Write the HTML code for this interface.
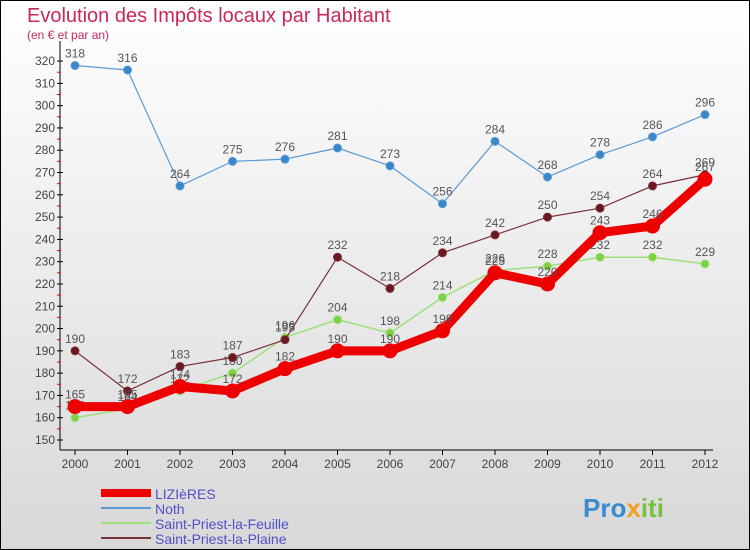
<!DOCTYPE html>
<html><head><meta charset="utf-8"><style>
html,body{margin:0;padding:0}
body{width:750px;height:550px;overflow:hidden;font-family:"Liberation Sans","DejaVu Sans",sans-serif}
#wrap{position:relative;width:748px;height:548px;border:1px solid #000;background:linear-gradient(#fff,#d8d8d8)}
.t{position:absolute;color:#c8285a}
</style></head><body>
<div id="wrap">
<div class="t" style="left:26px;top:4px;font-size:20px">Evolution des Impôts locaux par Habitant</div>
<div class="t" style="left:26px;top:27px;font-size:12px">(en € et par an)</div>
<svg id="svg" width="748" height="548" style="position:absolute;left:0;top:0"></svg>
</div>
<script>
const years=[2000,2001,2002,2003,2004,2005,2006,2007,2008,2009,2010,2011,2012];
const lizieres=[165,165,174,172,182,190,190,199,225,220,243,246,267];
const noth=[318,316,264,275,276,281,273,256,284,268,278,286,296];
const splf=[160,164,172,180,196,204,198,214,226,228,232,232,229];
const splp=[190,172,183,187,195,232,218,234,242,250,254,264,269];
const yTicks=[150,160,170,180,190,200,210,220,230,240,250,260,270,280,290,300,310,320];
const names=["LIZIèRES","Noth","Saint-Priest-la-Feuille","Saint-Priest-la-Plaine"];
const NS="http://www.w3.org/2000/svg",svg=document.getElementById('svg');
const x=i=>74+i*52.5, y=v=>439-(v-150)*2.229;
function mk(t,a,p){const e=document.createElementNS(NS,t);for(const k in a)e.setAttribute(k,a[k]);(p||svg).appendChild(e);return e;}
let e=mk('line',{x1:59,y1:40,x2:59,y2:449,stroke:'#000'});


e=mk('line',{x1:59,y1:449,x2:712,y2:449,stroke:'#000'});


yTicks.forEach(v=>{
 mk('line',{x1:56,y1:y(v),x2:62,y2:y(v),stroke:'#000'});
 if(v<320)mk('line',{x1:56,y1:y(v+5),x2:60,y2:y(v+5),stroke:'#e00'});
 const t=mk('text',{x:54,y:y(v)+4,'text-anchor':'end','font-size':12,fill:'#444'});t.textContent=v;
 
 
});
years.forEach((yr,i)=>{
 mk('line',{x1:x(i),y1:449,x2:x(i),y2:454,stroke:'#000'});
 const t=mk('text',{x:x(i),y:467,'text-anchor':'middle','font-size':12,fill:'#444'});t.textContent=yr;
 
 
});
function series(d,col,w,r,dot,nm){
 const g=mk('g',{});
 
 
 mk('polyline',{points:d.map((v,i)=>x(i)+','+y(v)).join(' '),fill:'none',stroke:col,'stroke-width':w,'stroke-linejoin':'round'},g);
 d.forEach((v,i)=>{
  const c=mk('circle',{cx:x(i),cy:y(v),r:r,fill:dot,stroke:col,'stroke-width':1},g);
  
  
  const t=mk('text',{x:x(i),y:y(v)-8,'text-anchor':'middle','font-size':12,fill:'#555'},g);t.textContent=v;
  
  
 });
}
series(noth,'#5b9bd5',1.2,4,'#3a86c8','series-noth');
series(splf,'#9ee07a',1.5,4,'#7dd040','series-saint-priest-la-feuille');
series(splp,'#7a3038',1.2,4,'#6a1820','series-saint-priest-la-plaine');
series(lizieres,'#ee0000',9,7,'#ee0000','series-lizieres');
const cols=['#ee0000','#5b9bd5','#9ee07a','#7a3038'],ws=[8,2,2,2];
names.forEach((n,i)=>{
 const yy=492+i*15;
 const l=mk('line',{x1:100,y1:yy,x2:150,y2:yy,stroke:cols[i],'stroke-width':ws[i]});
 
 
 const t=mk('text',{x:154,y:yy+6,'font-size':14,fill:'#5050c8'});t.textContent=n;
 
 
});
const lg=mk('text',{x:582,y:516,'font-size':26,'font-weight':'bold',fill:'#3a8ad0'});


lg.innerHTML='Pro<tspan fill="#f0a020">x</tspan><tspan fill="#7ac040">iti</tspan>';
</script>
</body></html>
